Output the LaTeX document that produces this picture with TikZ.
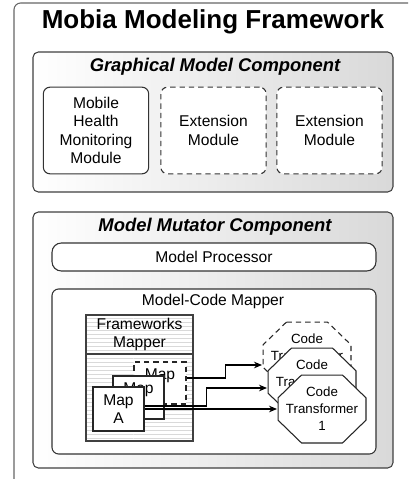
\documentclass[tikz,border=0pt]{standalone}
\usepackage{fontspec}
\setmainfont{Liberation Sans}
\usetikzlibrary{patterns,arrows.meta}

\begin{document}
\begin{tikzpicture}[x=0.75pt, y=-0.75pt, >={Stealth[length=6pt,width=5pt]}, line width=0.8pt]
    \tikzstyle{component} = [
        draw=black!75,
        rounded corners=4pt,
        left color=white,
        right color=black!15
    ]
    \tikzstyle{comptitle} = [font=\fontsize{13.8}{16}\selectfont\bfseries\itshape]
    \tikzstyle{plain} = [font=\fontsize{11.7}{13.9}\selectfont, align=center, inner sep=0pt]
    \tikzstyle{module} = [plain, draw=black!80, fill=white, rounded corners=5pt,
        minimum width=79pt, minimum height=65pt]
    \tikzstyle{box} = [plain, draw=black!80, fill=white]
    \tikzstyle{stripes} = [plain, draw=black!75, pattern=horizontal lines,
        pattern color=black!15]
    \tikzstyle{mapbox} = [plain, draw=black!85, fill=white]
    % octagon drawn inside the node box, then the text on top
    \tikzset{transformer/.style={
        minimum width=66.75pt,
        minimum height=51.75pt,
        inner sep=0pt,
        align=center,
        font=\fontsize{10}{12.75}\selectfont,
        path picture={
            \filldraw[fill=white, draw=black!85, line width=0.8pt, #1]
                ([shift={(18pt,-0.4pt)}]path picture bounding box.north west)
                -- ([shift={(-18pt,-0.4pt)}]path picture bounding box.north east)
                -- ([shift={(-0.4pt,-17.5pt)}]path picture bounding box.north east)
                -- ([shift={(-0.4pt,17.5pt)}]path picture bounding box.south east)
                -- ([shift={(-18pt,0.4pt)}]path picture bounding box.south east)
                -- ([shift={(18pt,0.4pt)}]path picture bounding box.south west)
                -- ([shift={(0.4pt,17.5pt)}]path picture bounding box.south west)
                -- ([shift={(0.4pt,-17.5pt)}]path picture bounding box.north west)
                -- cycle;
        }},
        transformer/.default={}}

    \useasboundingbox (0,0) rectangle (408,479);
    \clip (0,0) rectangle (408,479);

    % outer frame
    \node[draw=black!60, rounded corners=5pt, minimum width=312pt,
        minimum height=372.75pt] (frame) at (222,251.5) {};
    \node[font=\fontsize{19.5}{23}\selectfont\bfseries] (title) at (213,22)
        {Mobia Modeling Framework};

    % graphical model component
    \node[component, minimum width=270pt, minimum height=105pt] (gmc) at (213,122) {};
    \node[comptitle] (gmctitle) at (215,67) {Graphical Model Component};
    \node[module] (mhm) at (96,130.5) {Mobile\\Health\\Monitoring\\Module};
    \node[module, dash pattern=on 4pt off 3pt] (ext1) at (213.5,130.5) {Extension\\Module};
    \node[module, dash pattern=on 4pt off 3pt] (ext2) at (329.5,130.5) {Extension\\Module};

    % model mutator component
    \node[component, minimum width=270pt, minimum height=192pt] (mmc) at (213,340) {};
    \node[comptitle] (mmctitle) at (215,227) {Model Mutator Component};
    \node[box, rounded corners=7pt, minimum width=243pt, minimum height=21pt]
        (proc) at (214,257) {Model Processor};
    \node[box, rounded corners=5pt, minimum width=243pt, minimum height=123.75pt]
        (mapper) at (214,371.5) {};
    \node[plain] (mappertitle) at (213,301) {Model-Code Mapper};

    % frameworks mapper and maps
    \node[stripes, minimum width=80.25pt, minimum height=29.25pt] (fwhead)
        at (139.5,334.5) {Frameworks\\Mapper};
    \node[stripes, minimum width=80.25pt, minimum height=65.25pt] (fwbody)
        at (139.5,397.5) {};
    \node[mapbox, dash pattern=on 4pt off 3pt, minimum width=39pt,
        minimum height=31.5pt] (mapx) at (160,383) {Map\\X};
    \node[mapbox, minimum width=38.25pt, minimum height=32.25pt] (mapb)
        at (138.5,397.5) {Map\\~};
    \node[mapbox, minimum width=38.25pt, minimum height=33pt] (mapa)
        at (118.5,409) {Map\\A};

    % code transformers
    \node[transformer={dash pattern=on 4pt off 3pt}] (ctx) at (307,356)
        {Code\\Transformer\\~};
    \node[transformer] (ctb) at (312,382) {Code\\Transformer\\~};
    \node[transformer] (cta) at (322,409) {Code\\Transformer\\1};

    % maps -> transformers
    \draw[->] ([yshift=3.75pt]mapx.east) -- ++(39,0) |- ([yshift=-6.75pt]ctx.west);
    \draw[->] ([yshift=2.25pt]mapa.east) -- ++(62,0) |- ([yshift=-4.5pt]ctb.west);
    \draw[->] (mapa.east) -- (mapa.east -| cta.west);
\end{tikzpicture}
\end{document}
